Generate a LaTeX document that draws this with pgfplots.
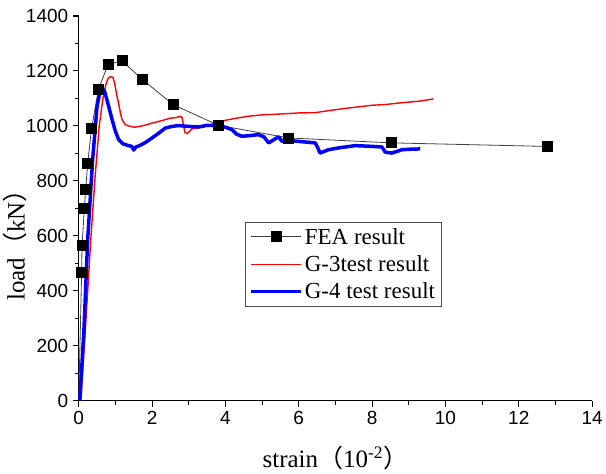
\documentclass[border=0pt]{standalone}
\usepackage{pgfplots}
\pgfplotsset{compat=1.18}
\usepackage{fontspec}
\setmainfont{Liberation Sans}
\newfontfamily\tnr{Liberation Serif}
\newfontfamily\cjk{Noto Sans CJK SC}
\begin{document}
\begin{tikzpicture}
\begin{axis}[
  scale only axis,
  width=514pt, height=385pt,
  xmin=0, xmax=14, ymin=0, ymax=1400,
  axis x line*=bottom, axis y line*=left,
  axis line style={-, line width=1.3pt, black},
  xtick={0,2,...,14}, ytick={0,200,...,1400},
  minor x tick num=1, minor y tick num=1,
  tick align=outside,
  major tick length=6pt, minor tick length=4pt,
  every tick/.style={black, line width=1.1pt},
  /pgf/number format/assume math mode=true,
  /pgf/number format/1000 sep={},
  tick label style={font=\fontsize{19}{19}\selectfont},
  xticklabel style={yshift=-1pt},
  yticklabel style={xshift=-1pt},
  xlabel={\tnr\fontsize{25}{25}\selectfont strain{\cjk（}10\textsuperscript{-2}{\cjk）}},
  ylabel={\tnr\fontsize{25}{25}\selectfont load{\cjk（}kN{\cjk）}},
  xlabel style={yshift=-15pt},
  ylabel style={yshift=-8pt, at={(ticklabel cs:0.42)}},
  legend style={at={(0.324,0.465)}, anchor=north west, draw=black!70, line width=0.8pt,
    font=\tnr\fontsize{23}{25}\selectfont, inner xsep=4pt, inner ysep=4pt, row sep=6pt},
  legend cell align=left,
  legend image code/.code={\draw[#1] (0pt,0pt) -- (50pt,0pt);
     \path[#1, only marks, mark indices={1}] plot coordinates {(25pt,0pt)};},
  clip=false,
]
\path (rel axis cs:0,1) -- ++(0pt,16pt);
\addplot[black!75, line width=0.8pt, mark=square*, mark size=5pt, mark indices={2,3,...,16}, mark options={black, solid, fill=black}] coordinates {
(0,0) (0.08,467) (0.09,563) (0.155,700) (0.19,768) (0.245,864) (0.35,990)
(0.54,1134) (0.80,1223) (1.18,1237) (1.74,1168) (2.58,1077) (3.81,1002)
(5.72,956) (8.54,938) (12.79,925)
};
\addlegendentry{FEA result}
\addplot[red, line width=1.4pt, mark=none] coordinates {
(0.06,0) (0.2,300) (0.33,586) (0.45,820) (0.56,1000) (0.66,1100) (0.74,1150)
(0.8,1172) (0.86,1179) (0.93,1177) (0.98,1155) (1.04,1110) (1.09,1080) (1.14,1045)
(1.18,1023) (1.27,1004) (1.4,998) (1.54,995) (1.8,1002) (2.0,1010) (2.18,1016)
(2.4,1024) (2.5,1028) (2.65,1030) (2.77,1035) (2.82,1030) (2.86,1000) (2.9,975)
(2.96,972) (3.09,989) (3.25,992) (3.45,998) (3.7,1008) (4.0,1020) (4.3,1028)
(4.63,1035) (5.0,1040) (5.5,1043) (6.0,1047) (6.45,1048) (6.9,1057) (7.36,1065)
(8.0,1075) (8.4,1078) (8.72,1083) (9.3,1090) (9.67,1098)
};
\addlegendentry{G-3test result}
\addplot[blue, line width=3.5pt, mark=none, line join=round] coordinates {
(0.03,0) (0.14,250) (0.245,586) (0.38,877) (0.5,1070) (0.58,1125) (0.64,1135)
(0.7,1128) (0.78,1090) (0.91,1023) (1.0,980) (1.09,950) (1.2,935) (1.36,928)
(1.45,925) (1.5,912) (1.55,922) (1.72,932) (1.85,942) (2.0,956) (2.2,975)
(2.36,992) (2.55,998) (2.72,1001) (3.0,998) (3.27,996) (3.5,1002) (3.81,1001)
(4.0,995) (4.18,986) (4.3,970) (4.45,962) (4.63,964) (4.9,968) (5.05,960)
(5.18,938) (5.3,948) (5.45,960) (5.54,944) (5.8,946) (6.1,942) (6.45,938)
(6.52,920) (6.58,901) (6.81,913) (7.1,920) (7.54,928) (7.9,926) (8.27,923)
(8.36,904) (8.54,901) (8.81,913) (9.05,915) (9.31,916)
};
\addlegendentry{G-4 test result}
\end{axis}
\end{tikzpicture}
\end{document}
